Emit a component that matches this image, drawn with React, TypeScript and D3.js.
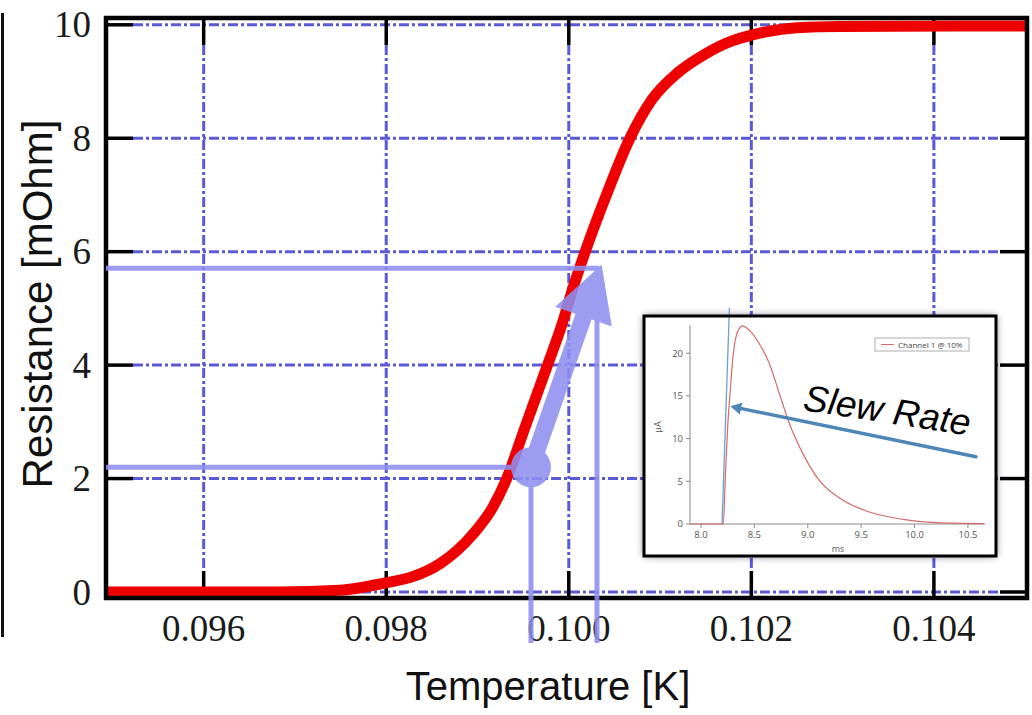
import React from "react";
import * as d3 from "d3";

// transition curve
const temperature = [
  0.09493, 0.096, 0.09683, 0.09749, 0.09799, 0.09829, 0.09859, 0.09894, 0.09917,
  0.09932, 0.09952, 0.09976, 0.09993, 0.10004, 0.10018, 0.1004, 0.10067, 0.10091,
  0.10119, 0.10151, 0.10173, 0.10201, 0.1025, 0.10297, 0.10502,
];
const resistance = [
  0, 0, 0, 0.03, 0.16, 0.27, 0.5, 1.0, 1.5, 2.0, 2.9, 3.97, 4.74, 5.33, 6.0, 6.95,
  8.0, 8.68, 9.15, 9.5, 9.68, 9.82, 9.95, 9.97, 9.98,
];
const xTicks = [0.096, 0.098, 0.1, 0.102, 0.104];
const yTicks = [0, 2, 4, 6, 8, 10];

// lavender markers (start point and arrow end)
const markTemp = [0.099586, 0.100309];
const markRes = [2.2, 5.71];
const arrowTipTemp = 0.10036;
const arrowTipRes = 5.77;

// inset pulse
const pulseMs = [
  7.9, 8.209, 8.228, 8.25, 8.272, 8.297, 8.328, 8.384, 8.452, 8.546, 8.64, 8.733,
  8.827, 8.952, 9.108, 9.327, 9.576, 9.889, 10.2, 10.65,
];
const pulseUA = [
  0, 0, 5.5, 11.4, 15.3, 19.2, 21.9, 23.2, 22.7, 21.1, 18.8, 15.3, 11.8, 8.3, 5.1,
  2.8, 1.4, 0.55, 0.16, 0.05,
];
const insetXTicks = [8.0, 8.5, 9.0, 9.5, 10.0, 10.5];
const insetYTicks = [0, 5, 10, 15, 20];
const tangentMs = [8.197, 8.266];
const tangentUA = [0, 25.3];
const slewMs = [10.575, 8.274];
const slewUA = [7.87, 13.78];

const W = 1032;
const H = 715;
const plot = { left: 106, top: 18, right: 1027, bottom: 598 };
const tickLen = 27;
const inset = { left: 644, top: 316, right: 996, bottom: 556 };

const lavender = "#8f8ff0";
const gridColor = "#5a5ad6";

export default function App() {
  const x = d3.scaleLinear().domain([0.09493, 0.10502]).range([plot.left, plot.right]);
  const y = d3.scaleLinear().domain([-0.106, 10.12]).range([plot.bottom, plot.top]);

  const curve = d3
    .line<number>()
    .x((_, i) => x(temperature[i]))
    .y((_, i) => y(resistance[i]))
    .curve(d3.curveMonotoneX)(resistance);

  // inset scales
  const ix = d3.scaleLinear().domain([7.897, 10.66]).range([690, 985]);
  const iy = d3.scaleLinear().domain([0, 23.3]).range([524, 325]);
  const pulse = d3
    .line<number>()
    .x((_, i) => ix(pulseMs[i]))
    .y((_, i) => iy(pulseUA[i]))
    .curve(d3.curveMonotoneX)(pulseUA);

  // lavender arrow geometry
  const ax0 = x(markTemp[0]);
  const ay0 = y(markRes[0]);
  const ax1 = x(arrowTipTemp);
  const ay1 = y(arrowTipRes);
  const len = Math.hypot(ax1 - ax0, ay1 - ay0);
  const ux = (ax1 - ax0) / len;
  const uy = (ay1 - ay0) / len;
  const headL = 55;
  const headW = 30;
  const bx = ax1 - ux * headL;
  const by = ay1 - uy * headL;
  const head = [
    [ax1, ay1],
    [bx - uy * headW, by + ux * headW],
    [bx + uy * headW, by - ux * headW],
  ];

  // slew arrow in inset
  const sx0 = ix(slewMs[0]);
  const sy0 = iy(slewUA[0]);
  const sx1 = ix(slewMs[1]);
  const sy1 = iy(slewUA[1]);
  const sl = Math.hypot(sx1 - sx0, sy1 - sy0);
  const svx = (sx1 - sx0) / sl;
  const svy = (sy1 - sy0) / sl;
  const sbx = sx1 - svx * 11;
  const sby = sy1 - svy * 11;
  const sHead = [
    [sx1, sy1],
    [sbx - svy * 6, sby + svx * 6],
    [sbx + svy * 6, sby - svx * 6],
  ];

  return (
    <svg
      width={W}
      height={H}
      style={{ position: "absolute", left: 0, top: 0, background: "#fff" }}
    >
      <defs>
        <filter id="glow" x="-10%" y="-10%" width="120%" height="120%">
          <feDropShadow dx="0" dy="0" stdDeviation="4" floodColor="#000" floodOpacity="0.55" />
        </filter>
        <clipPath id="plotClip">
          <rect x={plot.left} y={plot.top} width={plot.right - plot.left} height={plot.bottom - plot.top} />
        </clipPath>
      </defs>

      {/* stray border line at the left edge */}
      <line x1={2.5} x2={2.5} y1={13} y2={637} stroke="#111" strokeWidth={3} />

      {/* grid */}
      <g stroke={gridColor} strokeWidth={3} strokeDasharray="10,3,3,3">
        {xTicks.map((t) => (
          <line key={"gx" + t} x1={x(t)} x2={x(t)} y1={plot.top + tickLen} y2={plot.bottom - tickLen} />
        ))}
        {yTicks.map((t) => (
          <line key={"gy" + t} x1={plot.left + tickLen} x2={plot.right - tickLen} y1={y(t)} y2={y(t)} />
        ))}
      </g>

      {/* ticks */}
      <g stroke="#000" strokeWidth={3.5}>
        {xTicks.map((t) => (
          <g key={"tx" + t}>
            <line x1={x(t)} x2={x(t)} y1={plot.bottom} y2={plot.bottom - tickLen} />
            <line x1={x(t)} x2={x(t)} y1={plot.top} y2={plot.top + tickLen} />
          </g>
        ))}
        {yTicks.map((t) => (
          <g key={"ty" + t}>
            <line x1={plot.left} x2={plot.left + tickLen} y1={y(t)} y2={y(t)} />
            <line x1={plot.right} x2={plot.right - tickLen} y1={y(t)} y2={y(t)} />
          </g>
        ))}
      </g>

      {/* red transition curve */}
      <path
        d={curve || ""}
        fill="none"
        stroke="#ee0000"
        strokeWidth={11}
        strokeLinejoin="round"
        clipPath="url(#plotClip)"
      />

      {/* frame */}
      <rect
        x={plot.left}
        y={plot.top}
        width={plot.right - plot.left}
        height={plot.bottom - plot.top}
        fill="none"
        stroke="#000"
        strokeWidth={4.5}
      />

      {/* tick labels */}
      <g fontFamily="'Liberation Serif', 'Times New Roman', serif" fontSize={37} fill="#1a1a1a">
        {xTicks.map((t) => (
          <text key={"lx" + t} x={x(t)} y={641} textAnchor="middle">
            {d3.format(".3f")(t)}
          </text>
        ))}
        {yTicks.map((t) => (
          <text key={"ly" + t} x={91} y={y(t)} dy="0.34em" textAnchor="end">
            {t}
          </text>
        ))}
      </g>

      {/* axis titles */}
      <text
        x={548}
        y={700}
        textAnchor="middle"
        fontFamily="'Liberation Sans', Arial, sans-serif"
        fontSize={40}
        fill="#111"
      >
        Temperature [K]
      </text>
      <text
        transform={`translate(52,304) rotate(-90)`}
        textAnchor="middle"
        fontFamily="'Liberation Sans', Arial, sans-serif"
        fontSize={42}
        fill="#111"
      >
        Resistance [mOhm]
      </text>

      {/* lavender annotation */}
      <g opacity={0.88}>
        {markTemp.map((t, i) => (
          <g key={"m" + i} stroke={lavender} strokeWidth={5}>
            <line x1={plot.left} x2={x(t) + 2.5} y1={y(markRes[i])} y2={y(markRes[i])} />
            <line x1={x(t)} x2={x(t)} y1={y(markRes[i])} y2={643} />
          </g>
        ))}
        <line x1={ax0} y1={ay0} x2={bx + ux * 2} y2={by + uy * 2} stroke={lavender} strokeWidth={17} />
        <polygon points={head.map((p) => p.join(",")).join(" ")} fill={lavender} />
        <circle cx={ax0} cy={ay0} r={20} fill={lavender} />
      </g>

      {/* inset */}
      <g>
        <rect
          x={inset.left}
          y={inset.top}
          width={inset.right - inset.left}
          height={inset.bottom - inset.top}
          fill="#fff"
          filter="url(#glow)"
        />
        <line
          x1={ix(tangentMs[0])}
          y1={iy(tangentUA[0])}
          x2={ix(tangentMs[1])}
          y2={iy(tangentUA[1])}
          stroke="#6f9fcf"
          strokeWidth={1.3}
        />
        <g stroke="#8a8a8a" strokeWidth={1}>
          <line x1={690} x2={690} y1={iy.range()[1]} y2={iy.range()[0]} />
          <line x1={690} x2={985} y1={iy.range()[0]} y2={iy.range()[0]} />
          {insetYTicks.map((t) => (
            <line key={"iyt" + t} x1={686} x2={690} y1={iy(t)} y2={iy(t)} />
          ))}
          {insetXTicks.map((t) => (
            <line key={"ixt" + t} x1={ix(t)} x2={ix(t)} y1={524} y2={528} />
          ))}
        </g>
        <g fontFamily="'Open Sans', 'DejaVu Sans', sans-serif" fontSize={9.5} fill="#555">
          {insetYTicks.map((t) => (
            <text key={"iyl" + t} x={683} y={iy(t)} dy="0.35em" textAnchor="end">
              {t}
            </text>
          ))}
          {insetXTicks.map((t) => (
            <text key={"ixl" + t} x={ix(t)} y={538} textAnchor="middle">
              {d3.format(".1f")(t)}
            </text>
          ))}
          <text x={838} y={552} textAnchor="middle" fontSize={9}>
            ms
          </text>
          <text transform="translate(661,427) rotate(-90)" textAnchor="middle" fontSize={9}>
            µA
          </text>
        </g>
        <path d={pulse || ""} fill="none" stroke="#d46a6a" strokeWidth={1.2} />

        {/* legend */}
        <rect x={875} y={338} width={94} height={13} fill="#fff" stroke="#999" strokeWidth={0.8} />
        <line x1={881} x2={894} y1={344.5} y2={344.5} stroke="#d46a6a" strokeWidth={1} />
        <text
          x={898}
          y={347.5}
          fontFamily="'Open Sans', 'DejaVu Sans', sans-serif"
          fontSize={8}
          fill="#444"
        >
          Channel 1 @ 10%
        </text>

        {/* slew arrow */}
        <line
          x1={sx0}
          y1={sy0}
          x2={sbx + svx * 2}
          y2={sby + svy * 2}
          stroke="#4f86b8"
          strokeWidth={3.5}
          strokeLinecap="round"
        />
        <polygon points={sHead.map((p) => p.join(",")).join(" ")} fill="#4f86b8" />

        <text
          transform="translate(802,410) rotate(8.7)"
          fontFamily="'Liberation Sans', Arial, sans-serif"
          fontStyle="italic"
          fontSize={37}
          fill="#000"
        >
          Slew Rate
        </text>

        <rect
          x={inset.left}
          y={inset.top}
          width={inset.right - inset.left}
          height={inset.bottom - inset.top}
          fill="none"
          stroke="#000"
          strokeWidth={3}
        />
      </g>
    </svg>
  );
}
